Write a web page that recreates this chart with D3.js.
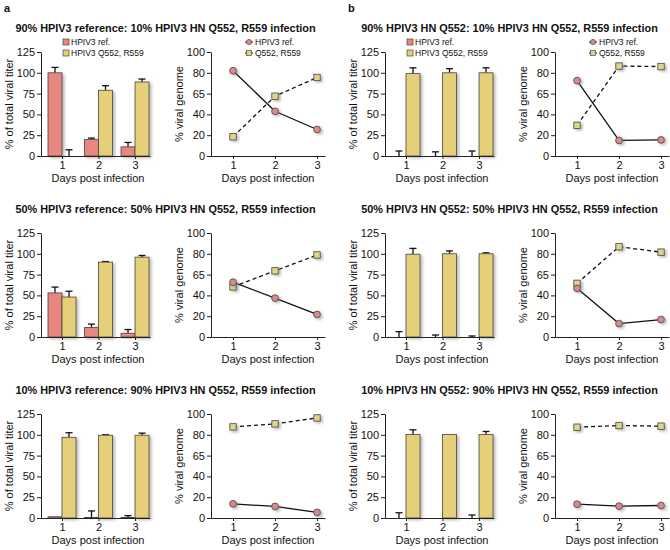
<!DOCTYPE html>
<html><head><meta charset="utf-8">
<script src="https://cdn.jsdelivr.net/npm/d3@7"></script>
<style>
body{margin:0;background:#fff;}
text{font-family:Arial,"Liberation Sans",sans-serif;fill:#111;}
</style></head>
<body><svg id="c" width="670" height="550"></svg>
<script>
// ---------- data ----------
const days = [1, 2, 3];
const titles = [
  ["90% HPIV3 reference: 10% HPIV3 HN Q552, R559 infection", "90% HPIV3 HN Q552: 10% HPIV3 HN Q552, R559 infection"],
  ["50% HPIV3 reference: 50% HPIV3 HN Q552, R559 infection", "50% HPIV3 HN Q552: 50% HPIV3 HN Q552, R559 infection"],
  ["10% HPIV3 reference: 90% HPIV3 HN Q552, R559 infection", "10% HPIV3 HN Q552: 90% HPIV3 HN Q552, R559 infection"]
];
const panelLabels = ["a", "b"];
const barLegend = ["HPIV3 ref.", "HPIV3 Q552, R559"];
const lineLegend = ["HPIV3 ref.", "Q552, R559"];
const barTicks = [0, 25, 50, 75, 100, 125];
const lineTickValues = [0, 20, 40, 60, 80, 100];
const lineTickLabels = ["0", "20", "40", "65", "80", "100"];

// bar titer (% of total viral titer), mean and upward error
const titerRefA1 = [100, 20, 11],     titerRefA1Err = [6.5, 1.5, 5.3];
const titerQA1   = [0, 79, 89],       titerQA1Err   = [7.5, 5.5, 3.5];
const titerRefB1 = [0, 0, 0],         titerRefB1Err = [6, 5, 6];
const titerQB1   = [99, 100, 100],    titerQB1Err   = [7, 5, 6];
const titerRefA2 = [53, 11.5, 4.5],   titerRefA2Err = [7, 4, 4.5];
const titerQA2   = [48, 90, 96],      titerQA2Err   = [7, 0.7, 2];
const titerRefB2 = [0, 0, 0],         titerRefB2Err = [6.4, 2.4, 1.2];
const titerQB2   = [99.5, 100, 100],  titerQB2Err   = [7, 3.5, 1.2];
const titerRefA3 = [1.5, 0.5, 0.5],   titerRefA3Err = [0, 8, 2.3];
const titerQA3   = [97, 99.5, 99.5],  titerQA3Err   = [5.5, 0.5, 2.5];
const titerRefB3 = [0, 0, 0],         titerRefB3Err = [6.3, 0, 3.6];
const titerQB3   = [100.4, 100.4, 100.4], titerQB3Err = [5.6, 0, 3.6];

// % viral genome
const genomeRefA1 = [82, 43, 25.5],   genomeQA1 = [18.5, 57.5, 75.5];
const genomeRefB1 = [72.5, 15, 15.5], genomeQB1 = [29.5, 86.5, 86];
const genomeRefA2 = [52.7, 37.4, 21.7], genomeQA2 = [48.2, 63.6, 78.9];
const genomeRefB2 = [46.8, 12.9, 16.8], genomeQB2 = [51.6, 86.8, 81.6];
const genomeRefA3 = [13.6, 11.1, 5.4],  genomeQA3 = [87.6, 90.5, 96.2];
const genomeRefB3 = [13.3, 11.4, 12],   genomeQB3 = [87.3, 88.9, 88.3];

const barSets = [
  [[titerRefA1, titerRefA1Err, titerQA1, titerQA1Err], [titerRefB1, titerRefB1Err, titerQB1, titerQB1Err]],
  [[titerRefA2, titerRefA2Err, titerQA2, titerQA2Err], [titerRefB2, titerRefB2Err, titerQB2, titerQB2Err]],
  [[titerRefA3, titerRefA3Err, titerQA3, titerQA3Err], [titerRefB3, titerRefB3Err, titerQB3, titerQB3Err]]
];
const lineSets = [
  [[genomeRefA1, genomeQA1], [genomeRefB1, genomeQB1]],
  [[genomeRefA2, genomeQA2], [genomeRefB2, genomeQB2]],
  [[genomeRefA3, genomeQA3], [genomeRefB3, genomeQB3]]
];

// ---------- drawing ----------
const C_REF = "#e8877f", C_Q = "#e5cf78", C_REF_PT = "#d98a8e", C_Q_PT = "#ddd58c", STROKE = "#4a4540";
const svg = d3.select("#c");
const defs = svg.append("defs");
const f = defs.append("filter").attr("id", "sh").attr("x", "-50%").attr("y", "-50%").attr("width", "200%").attr("height", "200%");
f.append("feDropShadow").attr("dx", 2).attr("dy", 1.5).attr("stdDeviation", 1.4)
  .attr("flood-color", "#777").attr("flood-opacity", 0.55);

const panelX = [0, 344];
const rowY = [0, 181, 362];

panelLabels.forEach((l, p) => {
  svg.append("text").attr("x", panelX[p] + 4).attr("y", 12).attr("font-size", 11)
    .attr("font-weight", "bold").text(l);
});

function styleAxis(g) {
  g.selectAll("path,line").attr("stroke", "#222").attr("stroke-width", 1);
  g.selectAll("text").attr("font-size", 11).attr("fill", "#111")
    .attr("font-family", 'Arial,"Liberation Sans",sans-serif');
}

rowY.forEach((oy, r) => {
  panelX.forEach((ox, p) => {
    // title
    svg.append("text").attr("x", ox + 165.5).attr("y", oy + 32).attr("text-anchor", "middle")
      .attr("font-size", 10.9).attr("font-weight", "bold").text(titles[r][p]);

    // ---- bar chart ----
    const [ref, refE, q, qE] = barSets[r][p];
    const x = d3.scaleLinear().domain([0.425, 3.41]).range([ox + 41, ox + 150]);
    const y = d3.scaleLinear().domain([0, 125]).range([oy + 156, oy + 52]);
    const bw = 14;
    const g = svg.append("g");
    const series = [[ref, refE, C_REF, -bw], [q, qE, C_Q, 0]];
    series.forEach(([vals, errs, col, off]) => {
      days.forEach((d, i) => {
        const x0 = x(d) + off;
        if (errs[i] > 0) {
          g.append("line").attr("x1", x0 + bw / 2).attr("x2", x0 + bw / 2)
            .attr("y1", y(vals[i])).attr("y2", y(vals[i] + errs[i])).attr("stroke", "#111").attr("stroke-width", 1.3);
          g.append("line").attr("x1", x0 + bw / 2 - 3.5).attr("x2", x0 + bw / 2 + 3.5)
            .attr("y1", y(vals[i] + errs[i])).attr("y2", y(vals[i] + errs[i])).attr("stroke", "#111").attr("stroke-width", 1.3);
        }
        if (vals[i] > 0) {
          g.append("rect").attr("x", x0).attr("width", bw).attr("y", y(vals[i]))
            .attr("height", y(0) - y(vals[i])).attr("fill", col).attr("stroke", STROKE)
            .attr("stroke-width", 0.8).attr("filter", "url(#sh)");
        }
      });
    });
    const ya = svg.append("g").attr("transform", `translate(${ox + 41},0)`)
      .call(d3.axisLeft(y).tickValues(barTicks).tickSize(4).tickPadding(2).tickSizeOuter(0));
    styleAxis(ya);
    const xa = svg.append("g").attr("transform", `translate(0,${oy + 156})`)
      .call(d3.axisBottom(x).tickValues(days).tickFormat(d3.format("d")).tickSize(3).tickPadding(2).tickSizeOuter(0));
    styleAxis(xa);
    svg.append("text").attr("transform", `translate(${ox + 13},${oy + 104}) rotate(-90)`)
      .attr("text-anchor", "middle").attr("font-size", 11).text("% of total viral titer");
    svg.append("text").attr("x", ox + 98).attr("y", oy + 182).attr("text-anchor", "middle")
      .attr("font-size", 11).text("Days post infection");

    // ---- line chart ----
    const [lref, lq] = lineSets[r][p];
    const lx = d3.scaleLinear().domain([0.476, 3.19]).range([ox + 211, ox + 325]);
    const ly = d3.scaleLinear().domain([0, 100]).range([oy + 156, oy + 52]);
    const lg = svg.append("g");
    const line = d3.line().x((v, i) => lx(days[i])).y(v => ly(v));
    lg.append("path").attr("d", line(lq)).attr("fill", "none").attr("stroke", "#111")
      .attr("stroke-width", 1.3).attr("stroke-dasharray", "4,3");
    lg.append("path").attr("d", line(lref)).attr("fill", "none").attr("stroke", "#111")
      .attr("stroke-width", 1.3);
    lq.forEach((v, i) => {
      lg.append("rect").attr("x", lx(days[i]) - 3.2).attr("y", ly(v) - 3.2).attr("width", 6.4).attr("height", 6.4)
        .attr("fill", C_Q_PT).attr("stroke", STROKE).attr("stroke-width", 0.8).attr("filter", "url(#sh)");
    });
    lref.forEach((v, i) => {
      lg.append("circle").attr("cx", lx(days[i])).attr("cy", ly(v)).attr("r", 3.4)
        .attr("fill", C_REF_PT).attr("stroke", STROKE).attr("stroke-width", 0.8).attr("filter", "url(#sh)");
    });
    const lya = svg.append("g").attr("transform", `translate(${ox + 211},0)`)
      .call(d3.axisLeft(ly).tickValues(lineTickValues).tickFormat((d, i) => lineTickLabels[i])
        .tickSize(4).tickPadding(2).tickSizeOuter(0));
    styleAxis(lya);
    const lxa = svg.append("g").attr("transform", `translate(0,${oy + 156})`)
      .call(d3.axisBottom(lx).tickValues(days).tickFormat(d3.format("d")).tickSize(3).tickPadding(2).tickSizeOuter(0));
    styleAxis(lxa);
    svg.append("text").attr("transform", `translate(${ox + 183},${oy + 104}) rotate(-90)`)
      .attr("text-anchor", "middle").attr("font-size", 11).text("% viral genome");
    svg.append("text").attr("x", ox + 268).attr("y", oy + 182).attr("text-anchor", "middle")
      .attr("font-size", 11).text("Days post infection");

    // ---- legends (top row only) ----
    if (r === 0) {
      [C_REF, C_Q].forEach((col, i) => {
        const ly0 = oy + 42 + i * 11;
        svg.append("rect").attr("x", ox + 63).attr("y", ly0 - 3).attr("width", 6).attr("height", 6)
          .attr("fill", col).attr("stroke", STROKE).attr("stroke-width", 0.7);
        svg.append("text").attr("x", ox + 71).attr("y", ly0 + 3).attr("font-size", 8.5).text(barLegend[i]);
      });
      lineLegend.forEach((t, i) => {
        const ly0 = oy + 42 + i * 11;
        svg.append("line").attr("x1", ox + 245).attr("x2", ox + 253).attr("y1", ly0).attr("y2", ly0)
          .attr("stroke", "#111").attr("stroke-width", 1);
        if (i === 0) {
          svg.append("circle").attr("cx", ox + 249).attr("cy", ly0).attr("r", 2.6)
            .attr("fill", C_REF_PT).attr("stroke", STROKE).attr("stroke-width", 0.7);
        } else {
          svg.append("rect").attr("x", ox + 246.5).attr("y", ly0 - 2.5).attr("width", 5).attr("height", 5)
            .attr("fill", C_Q_PT).attr("stroke", STROKE).attr("stroke-width", 0.7);
        }
        svg.append("text").attr("x", ox + 255).attr("y", ly0 + 3).attr("font-size", 8.5).text(t);
      });
    }
  });
});
</script></body></html>
